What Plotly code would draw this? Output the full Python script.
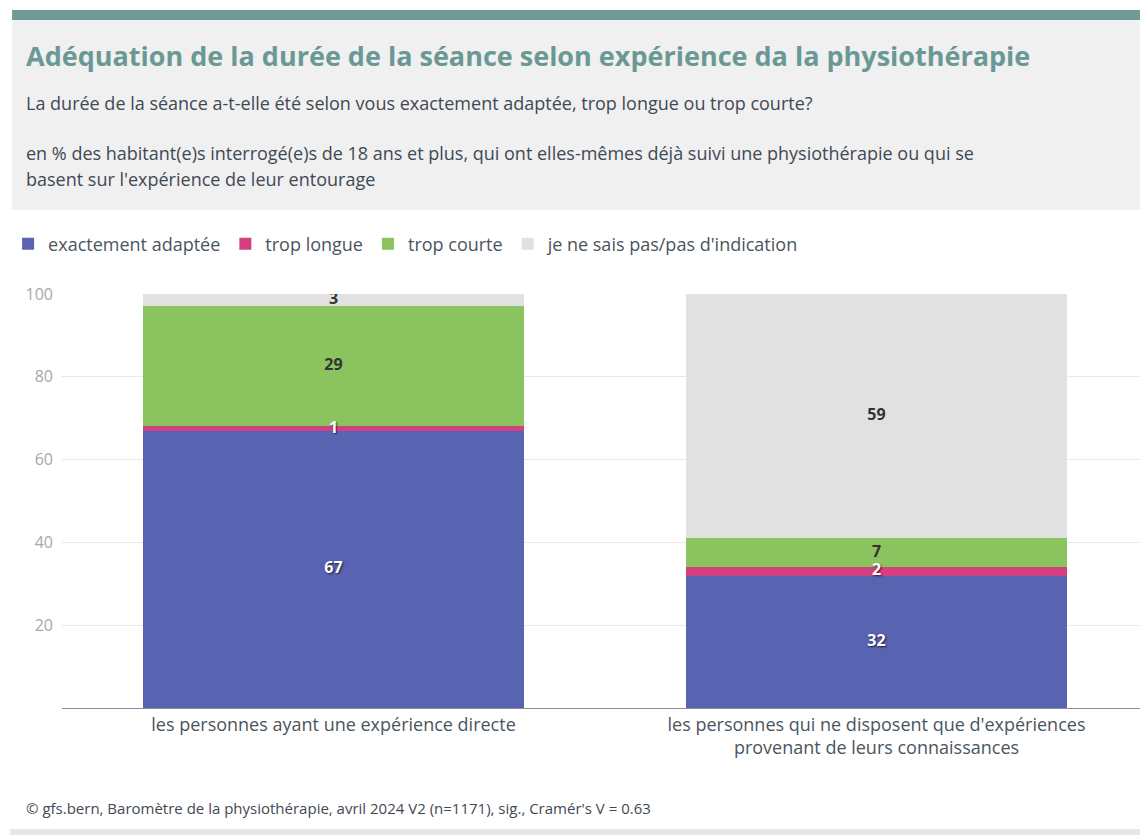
import plotly.graph_objects as go

# Data
categories = [
    "les personnes ayant une expérience directe",
    "les personnes qui ne disposent que d'expériences<br>provenant de leurs connaissances",
]
series_names = ["exactement adaptée", "trop longue", "trop courte", "je ne sais pas/pas d'indication"]
exactement = [67, 32]
trop_longue = [1, 2]
trop_courte = [29, 7]
ne_sais_pas = [3, 59]
y_ticks = [20, 40, 60, 80, 100]

colors = ["#5863b1", "#d43f80", "#8bc45f", "#e1e1e1"]
text_colors = ["white", "white", "#333333", "#333333"]
FONT = "Open Sans"

# the page body has an 8px margin, so the figure sits 8px in from the top-left
OFF = 8
W, H = 1148 - OFF, 835 - OFF
L, R, T, B = 60 - OFF, 0, 294 - OFF, 835 - 708
PW = W - L - R
PH = H - T - B


def px_x(x):
    # reference pixel x -> paper coordinate
    return (x - OFF - L) / PW


def px_y(y):
    # reference pixel y -> paper coordinate
    return (H - B - (y - OFF)) / PH


series = [exactement, trop_longue, trop_courte, ne_sais_pas]

fig = go.Figure()
for name, vals, col in zip(series_names, series, colors):
    fig.add_trace(go.Bar(
        x=categories,
        y=vals,
        name=name,
        marker=dict(color=col, line=dict(width=0)),
        hoverinfo="name+y",
    ))

# value labels drawn on top of all bars (middle of each stacked segment)
base = [0, 0]
for vals, tcol in zip(series, text_colors):
    mids = [b + v / 2 for b, v in zip(base, vals)]
    base = [b + v for b, v in zip(base, vals)]
    fig.add_trace(go.Scatter(
        x=categories,
        y=mids,
        mode="text",
        text=[str(v) for v in vals],
        textposition="middle center",
        textfont=dict(family=FONT, size=16, color=tcol, weight="bold",
                      shadow="1px 1px 2px rgba(0,0,0,0.7)" if tcol == "white" else "none"),
        showlegend=False,
        hoverinfo="skip",
    ))

shapes = [
    # teal top bar
    dict(type="rect", xref="paper", yref="paper", x0=px_x(10), x1=px_x(1148),
         y0=px_y(20), y1=px_y(10), fillcolor="#6f9a97", line=dict(width=0), layer="below"),
    # gray header box
    dict(type="rect", xref="paper", yref="paper", x0=px_x(10), x1=px_x(1148),
         y0=px_y(210), y1=px_y(20), fillcolor="#f0f0f0", line=dict(width=0), layer="below"),
    # bottom gray band
    dict(type="rect", xref="paper", yref="paper", x0=px_x(8), x1=px_x(1148),
         y0=px_y(835), y1=px_y(829), fillcolor="#e6e6e6", line=dict(width=0), layer="below"),
]

annotations = [
    dict(text="<b>Adéquation de la durée de la séance selon expérience da la physiothérapie</b>",
         x=px_x(22), y=px_y(56), xanchor="left", yanchor="middle",
         font=dict(family=FONT, size=27, color="#6a9995")),
    dict(text="La durée de la séance a-t-elle été selon vous exactement adaptée, trop longue ou trop courte?",
         x=px_x(22), y=px_y(103), xanchor="left", yanchor="middle",
         font=dict(family=FONT, size=18, color="#3f4954")),
    dict(text="en % des habitant(e)s interrogé(e)s de 18 ans et plus, qui ont elles-mêmes déjà suivi une physiothérapie ou qui se",
         x=px_x(22), y=px_y(153), xanchor="left", yanchor="middle",
         font=dict(family=FONT, size=18, color="#3f4954")),
    dict(text="basent sur l'expérience de leur entourage",
         x=px_x(22), y=px_y(179), xanchor="left", yanchor="middle",
         font=dict(family=FONT, size=18, color="#3f4954")),
    dict(text="© gfs.bern, Baromètre de la physiothérapie, avril 2024 V2 (n=1171), sig., Cramér's V = 0.63",
         x=px_x(22), y=px_y(808), xanchor="left", yanchor="middle",
         font=dict(family=FONT, size=15, color="#3f4954")),
]
for a in annotations:
    a.update(xref="paper", yref="paper", showarrow=False)

fig.update_layout(
    barmode="stack",
    bargap=0.3,
    width=W,
    height=H,
    margin=dict(l=L, r=R, t=T, b=B),
    plot_bgcolor="white",
    paper_bgcolor="white",
    font=dict(family=FONT, size=17, color="#4a5560"),
    showlegend=True,
    legend=dict(orientation="h", x=px_x(6), y=px_y(244), xanchor="left", yanchor="middle",
                font=dict(family=FONT, size=18, color="#4a5560"),
                itemwidth=30, traceorder="normal"),
    shapes=shapes,
    annotations=annotations,
)
fig.update_xaxes(showline=True, linecolor="#8a9098", linewidth=1, ticks="",
                 tickfont=dict(family=FONT, size=18, color="#4a5560"))
fig.update_yaxes(range=[0, 100], tickvals=y_ticks, showgrid=True, gridcolor="#e8e8e8",
                 gridwidth=1, zeroline=False, showline=False,
                 tickfont=dict(family=FONT, size=16, color="#a8a8a8"), ticklabelstandoff=8)

fig.write_html("out.html")
